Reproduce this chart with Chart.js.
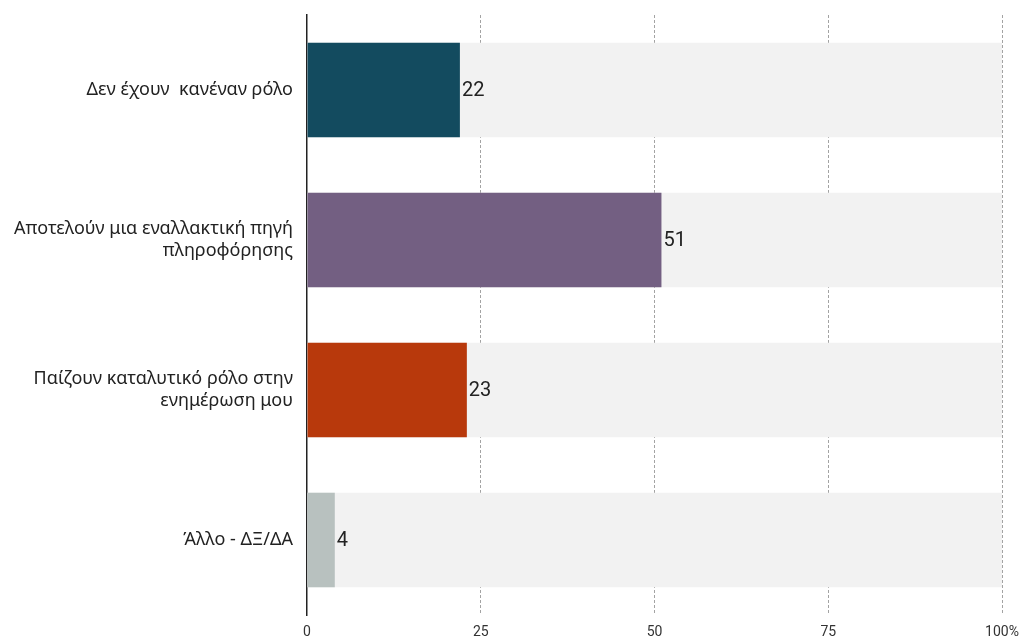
<!DOCTYPE html>
<html>
<head>
<meta charset="utf-8">
<script src="https://cdn.jsdelivr.net/npm/chart.js@4/dist/chart.umd.min.js"></script>
<style>
  html, body { margin: 0; padding: 0; background: #fff; }
  #wrap { width: 1024px; height: 639px; }
</style>
</head>
<body>
<div id="wrap"><canvas id="chart"></canvas></div>
<script>
// categorias e valores (%)
const categorias = [
    'Δεν έχουν  κανέναν ρόλο',
    ['Αποτελούν μια εναλλακτική πηγή', 'πληροφόρησης'],
    ['Παίζουν καταλυτικό ρόλο στην', 'ενημέρωση μου'],
    'Άλλο - ΔΞ/ΔΑ'
];
const valores = [22, 51, 23, 4];
const fundo = [100, 100, 100, 100];
const cores = ['#134b5f', '#735f82', '#b8390c', '#b8c1bf'];
const xTicks = [0, 25, 50, 75, 100];

// rótulos de valor ao lado das barras
const valueLabels = {
    id: 'valueLabels',
    afterDatasetsDraw(chart) {
        const ctx = chart.ctx;
        const meta = chart.getDatasetMeta(0);
        ctx.save();
        ctx.font = '20px Roboto, "Noto Sans", sans-serif';
        ctx.fillStyle = '#222';
        ctx.textAlign = 'left';
        ctx.textBaseline = 'middle';
        meta.data.forEach((bar, i) => {
            ctx.fillText(String(valores[i]), bar.x + 2, bar.y + 1);
        });
        ctx.restore();
    }
};

const ctx = document.getElementById('chart').getContext('2d');
new Chart(ctx, {
    type: 'bar',
    data: {
        labels: categorias,
        datasets: [
            {
                data: valores,
                backgroundColor: cores,
                grouped: false,
                order: 1,
                barPercentage: 0.63,
                categoryPercentage: 1
            },
            {
                data: fundo,
                backgroundColor: '#f2f2f2',
                grouped: false,
                order: 2,
                barPercentage: 0.63,
                categoryPercentage: 1
            }
        ]
    },
    options: {
        indexAxis: 'y',
        responsive: true,
        maintainAspectRatio: false,
        animation: false,
        layout: { padding: { top: 15, right: 22, bottom: 0, left: 0 } },
        plugins: {
            legend: { display: false },
            tooltip: { enabled: false }
        },
        scales: {
            x: {
                min: 0,
                max: 100,
                afterBuildTicks(axis) {
                    axis.ticks = xTicks.map(v => ({ value: v }));
                },
                afterFit(axis) {
                    axis.height = 24;
                    axis.paddingLeft = 0;
                    axis.paddingRight = 0;
                },
                grid: {
                    color: c => c.tick && c.tick.value === 0 ? 'rgba(0,0,0,0)' : '#a3a3a3',
                    lineWidth: 1,
                    drawTicks: false
                },
                border: { display: false, dash: [3, 2] },
                ticks: {
                    padding: 9,
                    color: '#333',
                    font: { family: 'Roboto, "Noto Sans", sans-serif', size: 14 },
                    callback: v => v === 100 ? '100%' : v
                }
            },
            y: {
                afterFit(axis) {
                    axis.width = 307;
                    axis.paddingTop = 0;
                    axis.paddingBottom = 0;
                },
                grid: { display: false, drawTicks: false },
                border: { display: true, color: '#222', width: 1.5 },
                ticks: {
                    padding: 14,
                    color: '#222',
                    font: { family: '"Noto Sans", "Open Sans", sans-serif', size: 18 }
                }
            }
        }
    },
    plugins: [valueLabels]
});
</script>
</body>
</html>
